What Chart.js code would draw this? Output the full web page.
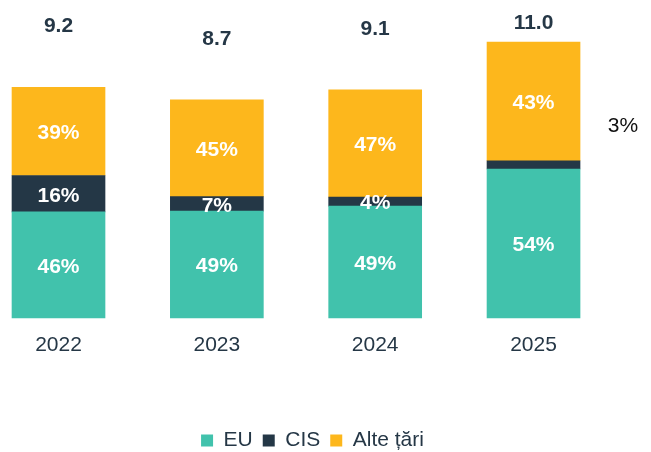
<!DOCTYPE html>
<html>
<head>
<meta charset="utf-8">
<script src="https://cdn.jsdelivr.net/npm/chart.js@4.4.1/dist/chart.umd.min.js"></script>
<style>
html,body{margin:0;padding:0;background:#fff;}
#wrap{width:651px;height:452px;position:relative;}
</style>
</head>
<body>
<div id="wrap"><canvas id="c" width="651" height="452"></canvas></div>
<script>
const categories = ['2022', '2023', '2024', '2025'];
const totals = [9.2, 8.7, 9.1, 11.0];
const euValues = [4.23, 4.26, 4.46, 5.94];
const cisValues = [1.45, 0.58, 0.36, 0.33];
const otherValues = [3.52, 3.86, 4.28, 4.73];
const euPct = ['46%', '49%', '49%', '54%'];
const cisPct = ['16%', '7%', '4%', '3%'];
const otherPct = ['39%', '45%', '47%', '43%'];
const cisLabelOutside = [false, false, false, true];

const DARK = '#253746';
const FONT = "'Liberation Sans', Arial, sans-serif";

const toPoints = (arr) => arr.map((v, i) => ({ x: i, y: v }));

const labelPlugin = {
  id: 'labels',
  afterDatasetsDraw(chart) {
    const ctx = chart.ctx;
    ctx.save();
    ctx.textAlign = 'center';
    ctx.textBaseline = 'middle';
    const pctSets = [euPct, cisPct, otherPct];
    chart.data.datasets.forEach((ds, di) => {
      const meta = chart.getDatasetMeta(di);
      meta.data.forEach((bar, i) => {
        const cy = (bar.y + bar.base) / 2;
        if (di === 1 && cisLabelOutside[i]) {
          ctx.font = "21px " + FONT;
          ctx.fillStyle = '#111111';
          ctx.fillText(pctSets[di][i], bar.x + bar.width / 2 + 43, cy - 39);
        } else {
          ctx.font = "bold 21px " + FONT;
          ctx.fillStyle = '#ffffff';
          ctx.fillText(pctSets[di][i], bar.x, cy + 2);
        }
      });
    });
    const topMeta = chart.getDatasetMeta(2);
    ctx.font = "bold 21px " + FONT;
    ctx.fillStyle = DARK;
    topMeta.data.forEach((bar, i) => {
      const y = Math.max(bar.y - 61, 23);
      ctx.fillText(totals[i].toFixed(1), bar.x, y);
    });
    ctx.restore();
  }
};

new Chart(document.getElementById('c'), {
  type: 'bar',
  data: {
    datasets: [
      { label: 'EU', data: toPoints(euValues), backgroundColor: '#41C2AC', clip: false },
      { label: 'CIS', data: toPoints(cisValues), backgroundColor: '#243746', clip: false },
      { label: 'Alte țări', data: toPoints(otherValues), backgroundColor: '#FDB71C', clip: false }
    ]
  },
  options: {
    responsive: false,
    animation: false,
    events: [],
    datasets: { bar: { barThickness: 93 } },
    layout: { padding: { left: 0, right: 26, top: 17, bottom: -9 } },
    scales: {
      x: {
        type: 'linear',
        stacked: true,
        min: -0.3695,
        max: 3.5777,
        offset: false,
        grid: { display: false },
        border: { display: false },
        afterBuildTicks(scale) { scale.ticks = categories.map((c, i) => ({ value: i })); },
        ticks: {
          color: DARK,
          font: { family: FONT, size: 21 },
          padding: 7,
          autoSkip: false,
          maxRotation: 0,
          callback: (v) => categories[v]
        },
        afterFit(scale) { scale.height = 102; }
      },
      y: {
        stacked: true,
        display: false,
        min: 0,
        max: 12
      }
    },
    plugins: {
      legend: {
        position: 'bottom',
        labels: {
          boxWidth: 12,
          boxHeight: 12,
          padding: 10,
          color: DARK,
          font: { family: FONT, size: 21 }
        }
      },
      tooltip: { enabled: false }
    }
  },
  plugins: [labelPlugin]
});
</script>
</body>
</html>
